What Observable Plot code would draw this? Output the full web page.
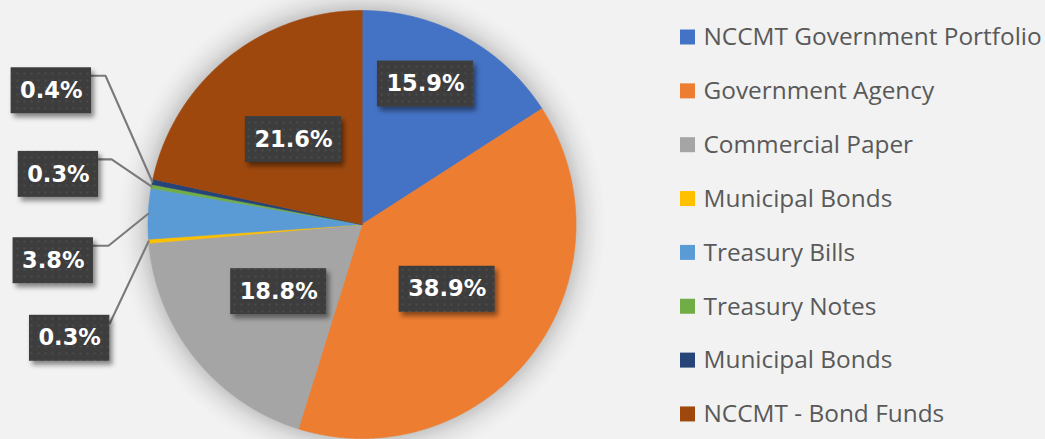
<!DOCTYPE html>
<html>
<head>
<meta charset="utf-8">
<script src="https://cdn.jsdelivr.net/npm/d3@7"></script>
<script src="https://cdn.jsdelivr.net/npm/@observablehq/plot@0.6"></script>
<style>
  html, body { margin: 0; padding: 0; background: #f2f2f2; }
  #chart svg { display: block; }
</style>
</head>
<body>
<div id="chart"></div>
<script>
// ---- data ----
const categories = [
  "NCCMT Government Portfolio",
  "Government Agency",
  "Commercial Paper",
  "Municipal Bonds",
  "Treasury Bills",
  "Treasury Notes",
  "Municipal Bonds",
  "NCCMT - Bond Funds"
];
const shares = [15.9, 38.9, 18.8, 0.3, 3.8, 0.3, 0.4, 21.6];
const valueLabels = ["15.9%", "38.9%", "18.8%", "0.3%", "3.8%", "0.3%", "0.4%", "21.6%"];
const colors = ["#4472C4", "#ED7D31", "#A5A5A5", "#FFC000", "#5B9BD5", "#70AD47", "#264478", "#9E480E"];

// ---- layout ----
const W = 1045, H = 439;
const pieLayout = { cx: 361.5, cy: 224, r: 214, halo: 30 };
// label placement (Excel "best fit" style): inside labels at a radius fraction,
// outside labels offset from the slice's edge anchor, with a leader line
const labelLayout = [
  { inside: true, rf: 0.72, da: -4.3 },
  { inside: true, rf: 0.50, da: 0 },
  { inside: true, rf: 0.50, da: 0 },
  { dx: -79, dy: 97, hook: 0 },
  { dx: -95, dy: 47, hook: 15 },
  { dx: -93, dy: -12, hook: 13 },
  { dx: -101, dy: -91, hook: 14 },
  { inside: true, rf: 0.51, da: 0 }
];
const legendLayout = { swatchX: 680, swatch: 15, textX: 703, y0: 37, step: 53.85, fontSize: 24.4 };
const labelFont = { family: "DejaVu Sans", size: 22.5, weight: "bold", padX: 9, boxH: 46 };

const { cx, cy, r } = pieLayout;
const pt = (a, rr) => [cx + rr * Math.sin(a), cy - rr * Math.cos(a)];

const arcs = d3.pie().sort(null).value(d => d)(shares);

// slice polygons
const slicePoints = [];
arcs.forEach((p, i) => {
  slicePoints.push({ i, x: cx, y: cy });
  const n = Math.max(2, Math.ceil((p.endAngle - p.startAngle) / (Math.PI / 360)));
  for (let k = 0; k <= n; k++) {
    const a = p.startAngle + (p.endAngle - p.startAngle) * k / n;
    const [x, y] = pt(a, r);
    slicePoints.push({ i, x, y });
  }
});

// text measurement
const ctx = document.createElement("canvas").getContext("2d");
ctx.font = `${labelFont.weight} ${labelFont.size}px "${labelFont.family}"`;

const labels = [];
const leaders = [];
arcs.forEach((p, i) => {
  const L = labelLayout[i];
  const mid = (p.startAngle + p.endAngle) / 2;
  let x, y;
  if (L.inside) {
    [x, y] = pt(mid + L.da * Math.PI / 180, r * L.rf);
  } else {
    const [ax, ay] = pt(mid, r);
    x = ax + L.dx; y = ay + L.dy;
  }
  const w = ctx.measureText(valueLabels[i]).width + 2 * labelFont.padX;
  const h = labelFont.boxH;
  const lab = { i, text: valueLabels[i], x, y, x1: x - w / 2, x2: x + w / 2, y1: y - h / 2, y2: y + h / 2 };
  labels.push(lab);
  if (!L.inside) {
    const [ax, ay] = pt(mid, r);
    const sx = lab.x2, sy = lab.y1 + 8;
    leaders.push({ i, x: sx, y: sy });
    if (L.hook > 0) leaders.push({ i, x: sx + L.hook, y: sy });
    leaders.push({ i, x: ax, y: ay });
  }
});

const legend = categories.map((c, i) => {
  const y = legendLayout.y0 + legendLayout.step * i;
  return { i, c, y,
    x1: legendLayout.swatchX, x2: legendLayout.swatchX + legendLayout.swatch,
    y1: y - legendLayout.swatch / 2, y2: y + legendLayout.swatch / 2 };
});

const chart = Plot.plot({
  width: W,
  height: H,
  margin: 0,
  style: { background: "#f2f2f2", overflow: "visible" },
  x: { type: "linear", domain: [0, W], range: [0, W], axis: null },
  y: { type: "linear", domain: [0, H], range: [0, H], axis: null },
  color: { type: "ordinal", domain: d3.range(categories.length), range: colors },
  marks: [
    // soft halo around the pie
    Plot.dot([pieLayout], { x: "cx", y: "cy", r: r + pieLayout.halo, fill: "url(#halo)", stroke: "none" }),
    Plot.line(slicePoints, {
      x: "x", y: "y", z: "i", fill: "i", stroke: "i", strokeWidth: 0.6,
      curve: "linear-closed"
    }),
    Plot.line(leaders, {
      x: "x", y: "y", z: "i", stroke: "#7a7a7a", strokeWidth: 2.1
    }),
    Plot.rect(labels, {
      x1: "x1", x2: "x2", y1: "y1", y2: "y2", fill: "url(#dots)"
    }),
    Plot.text(labels, {
      x: "x", y: "y", text: "text", fill: "white",
      fontFamily: labelFont.family, fontSize: labelFont.size, fontWeight: labelFont.weight
    }),
    Plot.rect(legend, {
      x1: "x1", x2: "x2", y1: "y1", y2: "y2", fill: "i"
    }),
    Plot.text(legend, {
      x: legendLayout.textX, y: "y", text: "c", textAnchor: "start",
      fill: "#595959", fontFamily: "Open Sans", fontSize: legendLayout.fontSize
    })
  ]
});

// defs: dotted label pattern, halo gradient, box shadow
const svg = d3.select(chart);
const markGroups = Array.from(chart.children).filter(n => n.tagName.toLowerCase() === "g");
const defs = svg.insert("defs", ":first-child");
const pat = defs.append("pattern").attr("id", "dots").attr("patternUnits", "userSpaceOnUse")
  .attr("width", 7).attr("height", 7);
pat.append("rect").attr("width", 7).attr("height", 7).attr("fill", "#3d3d3d");
pat.append("circle").attr("cx", 3.5).attr("cy", 3.5).attr("r", 1.1).attr("fill", "#4c4c4c");
const inner = r / (r + pieLayout.halo);
const grad = defs.append("radialGradient").attr("id", "halo");
[[0, 0.2], [inner - 0.01, 0.2], [inner + (1 - inner) * 0.35, 0.08], [inner + (1 - inner) * 0.7, 0.025], [1, 0]]
  .forEach(([o, a]) => grad.append("stop").attr("offset", o).attr("stop-color", "#000").attr("stop-opacity", a));
const f2 = defs.append("filter").attr("id", "boxShadow")
  .attr("x", "-20%").attr("y", "-30%").attr("width", "150%").attr("height", "170%");
f2.append("feDropShadow").attr("dx", 3).attr("dy", 4).attr("stdDeviation", 2.5)
  .attr("flood-color", "#000").attr("flood-opacity", 0.45);
if (markGroups[3]) d3.select(markGroups[3]).selectAll("rect").attr("filter", "url(#boxShadow)");

document.getElementById("chart").appendChild(chart);
</script>
</body>
</html>
